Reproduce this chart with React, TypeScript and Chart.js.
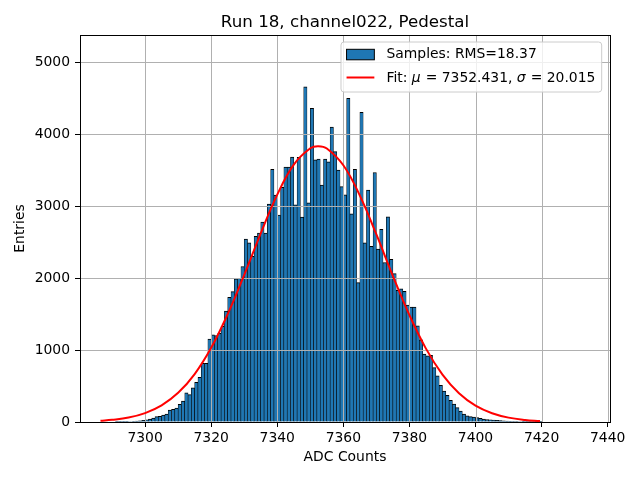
import React, { useEffect, useRef } from 'react';
import { Chart, registerables } from 'chart.js';

Chart.register(...registerables);

const chartTitle = 'Run 18, channel022, Pedestal';
const xLabel = 'ADC Counts';
const yLabel = 'Entries';
const rmsText = '18.37';
const fitMuText = '7352.431';
const fitSigmaText = '20.015';

// histogram: unit-width bins, first bin starts at 7291
const firstBin = 7291;
const binWidth = 1;
const counts = [
  10, 3, 4, 5, 6, 8, 12, 16, 22,
  30, 40, 55, 75, 80, 95, 110, 165, 175, 195,
  245, 290, 405, 380, 475, 550, 620, 815, 815, 1150,
  1210, 1200, 1230, 1330, 1540, 1730, 1810, 1990, 1995, 2160,
  2540, 2490, 2300, 2580, 2625, 2775, 2625, 3025, 3510, 3150,
  2875, 3260, 3540, 3540, 3680, 3015, 3675, 2845, 4655, 3045,
  4355, 3640, 3650, 3290, 3650, 3615, 4095, 3755, 3500, 3270,
  3155, 4495, 2890, 3510, 1935, 4300, 2490, 3220, 2440, 3465,
  2400, 2675, 2215, 2850, 2260, 2060, 1830, 1850, 1815, 1625,
  1595, 1595, 1335, 1140, 944, 920, 925, 755, 640, 510,
  430, 370, 300, 250, 200, 150, 110, 85, 74, 70,
  60, 50, 40, 35, 30, 25, 22, 18, 15, 12,
  10, 8, 8, 6, 4, 3, 2, 2, 1, 1,
];

// fitted curve
const fitX = [7286.5, 7290, 7295, 7300, 7305, 7310, 7315, 7320, 7325, 7330, 7335, 7340, 7345, 7350, 7352.4, 7355, 7360, 7365, 7370, 7375, 7380, 7385, 7390, 7395, 7400, 7405, 7410, 7415, 7419.5];
const fitY = [17, 30, 62, 124, 231, 405, 666, 1031, 1498, 2044, 2621, 3158, 3575, 3802, 3830, 3799, 3566, 3144, 2605, 2027, 1484, 1019, 658, 399, 227, 122, 61, 29, 14];

const xTicks = [7300, 7320, 7340, 7360, 7380, 7400, 7420, 7440];
const yTicks = [0, 1000, 2000, 3000, 4000, 5000];
const xMin = 7280.3;
const xMax = 7440.7;
const yMax = 5375;

const FONT = '"DejaVu Sans", sans-serif';
const FS = 13.9;
const BAR_COLOR = '#1f77b4';

const mplPlugin = {
  id: 'mplOverlay',
  afterDatasetDraw(chart: any, args: any) {
    if (args.meta.type !== 'bar') return;
    const { ctx, chartArea: a, scales } = chart;
    ctx.save();
    ctx.strokeStyle = '#b0b0b0';
    ctx.lineWidth = 1;
    ctx.beginPath();
    for (const v of xTicks) {
      const x = Math.round(scales.x.getPixelForValue(v)) + 0.5;
      ctx.moveTo(x, a.top);
      ctx.lineTo(x, a.bottom);
    }
    for (const v of yTicks) {
      const y = Math.round(scales.y.getPixelForValue(v)) + 0.5;
      ctx.moveTo(a.left, y);
      ctx.lineTo(a.right, y);
    }
    ctx.stroke();
    ctx.restore();
  },
  afterDraw(chart: any) {
    const { ctx, chartArea: a } = chart;
    ctx.save();
    // spines
    ctx.strokeStyle = '#000';
    ctx.lineWidth = 1;
    ctx.strokeRect(Math.round(a.left) + 0.5, Math.round(a.top) + 0.5, Math.round(a.right - a.left), Math.round(a.bottom - a.top));

    // title
    ctx.fillStyle = '#000';
    ctx.font = `16.7px ${FONT}`;
    ctx.textAlign = 'center';
    ctx.textBaseline = 'alphabetic';
    ctx.fillText(chartTitle, (a.left + a.right) / 2, a.top - 8.3);

    // legend
    const normal = `${FS}px ${FONT}`;
    const italic = `italic ${FS}px ${FONT}`;
    const row1 = [{ t: `Samples: RMS=${rmsText}`, f: normal }];
    const row2 = [
      { t: 'Fit: ', f: normal },
      { t: 'μ', f: italic },
      { t: ` = ${fitMuText}, `, f: normal },
      { t: 'σ', f: italic },
      { t: ` = ${fitSigmaText}`, f: normal },
    ];
    const measure = (segs: { t: string; f: string }[]) =>
      segs.reduce((w, s) => {
        ctx.font = s.f;
        return w + ctx.measureText(s.t).width;
      }, 0);
    const pad = 0.4 * FS;
    const handleLen = 2.0 * FS;
    const handlePad = 0.8 * FS;
    const textW = Math.max(measure(row1), measure(row2)) + 3;
    const w = pad + handleLen + handlePad + textW + pad;
    const h = 50;
    const lx = a.right - 8.3 - w;
    const ly = a.top + 7;
    ctx.beginPath();
    ctx.roundRect(lx, ly, w, h, 3);
    ctx.fillStyle = 'rgba(255,255,255,0.8)';
    ctx.fill();
    ctx.strokeStyle = '#cccccc';
    ctx.lineWidth = 1;
    ctx.stroke();

    const r1 = ly + 12.3;
    const r2 = ly + 35.5;
    const hx = lx + pad;
    // patch handle
    ctx.fillStyle = BAR_COLOR;
    ctx.fillRect(hx, r1 - 5, handleLen, 10.5);
    ctx.strokeStyle = '#000';
    ctx.strokeRect(hx, r1 - 5, handleLen, 10.5);
    // line handle
    ctx.strokeStyle = 'red';
    ctx.lineWidth = 2;
    ctx.beginPath();
    ctx.moveTo(hx, r2);
    ctx.lineTo(hx + handleLen, r2);
    ctx.stroke();

    ctx.fillStyle = '#000';
    ctx.textAlign = 'left';
    ctx.textBaseline = 'middle';
    const drawSegs = (segs: { t: string; f: string }[], x: number, y: number) => {
      let cx = x;
      for (const s of segs) {
        ctx.font = s.f;
        ctx.fillText(s.t, cx, y);
        cx += ctx.measureText(s.t).width + (s.f === italic ? 0.6 : 0);
      }
    };
    const tx = hx + handleLen + handlePad + 1;
    drawSegs(row1, tx, r1 + 0.5);
    drawSegs(row2, tx, r2 + 0.5);
    ctx.restore();
  },
};

export default function App() {
  const ref = useRef<HTMLCanvasElement | null>(null);

  useEffect(() => {
    document.body.style.margin = '0';
    const canvas = ref.current;
    if (!canvas) return;

    const barData = counts.map((c, i) => ({ x: firstBin + i * binWidth + binWidth / 2, y: c }));
    const lineData = fitX.map((x, i) => ({ x, y: fitY[i] }));

    const tickFont = { family: FONT, size: FS };

    const chart = new Chart(canvas, {
      type: 'line',
      data: {
        datasets: [
          {
            type: 'bar',
            label: 'Samples',
            data: barData,
            backgroundColor: BAR_COLOR,
            borderColor: '#000',
            borderWidth: { top: 1, left: 0.6, right: 0.6, bottom: 0 },
            borderSkipped: false,
            barPercentage: 1,
            categoryPercentage: 1,
            order: 1,
          } as any,
          {
            type: 'line',
            label: 'Fit',
            data: lineData,
            borderColor: 'red',
            borderWidth: 2,
            pointRadius: 0,
            tension: 0.4,
            fill: false,
            order: 0,
          } as any,
        ],
      },
      options: {
        animation: false,
        responsive: false,
        devicePixelRatio: 1,
        layout: { padding: { top: 35, right: 30, left: 0, bottom: 0 } },
        plugins: {
          legend: { display: false },
          tooltip: { enabled: false },
          title: { display: false },
        },
        scales: {
          x: {
            type: 'linear',
            position: 'bottom',
            min: xMin,
            max: xMax,
            offset: false,
            afterFit: (s: any) => {
              s.height = 58;
              s.paddingLeft = 0;
              s.paddingRight = 0;
            },
            afterBuildTicks: (s: any) => {
              s.ticks = xTicks.map((v) => ({ value: v }));
            },
            ticks: {
              color: '#000',
              font: tickFont,
              padding: 3,
              maxRotation: 0,
              autoSkip: false,
              callback: (v: any) => String(v),
            },
            grid: {
              offset: false,
              drawOnChartArea: false,
              color: '#b0b0b0',
              tickColor: '#000',
              tickLength: 5,
              lineWidth: 1,
            },
            border: { display: true, color: '#000', width: 1 },
            title: {
              display: true,
              text: xLabel,
              color: '#000',
              font: { family: FONT, size: FS },
              padding: { top: 0, bottom: 14 },
            },
          },
          y: {
            type: 'linear',
            min: 0,
            max: yMax,
            afterFit: (s: any) => {
              s.width = 80;
              s.paddingTop = 0;
              s.paddingBottom = 0;
            },
            afterBuildTicks: (s: any) => {
              s.ticks = yTicks.map((v) => ({ value: v }));
            },
            ticks: {
              color: '#000',
              font: tickFont,
              padding: 5,
              autoSkip: false,
              callback: (v: any) => String(v),
            },
            grid: {
              drawOnChartArea: false,
              color: '#b0b0b0',
              tickColor: '#000',
              tickLength: 5,
              lineWidth: 1,
            },
            border: { display: true, color: '#000', width: 1 },
            title: {
              display: true,
              text: yLabel,
              color: '#000',
              font: { family: FONT, size: FS },
              padding: { top: 12.5, bottom: 0 },
            },
          },
        },
      },
      plugins: [mplPlugin as any],
    });

    return () => chart.destroy();
  }, []);

  return <canvas ref={ref} width={640} height={480} style={{ display: 'block' }} />;
}
